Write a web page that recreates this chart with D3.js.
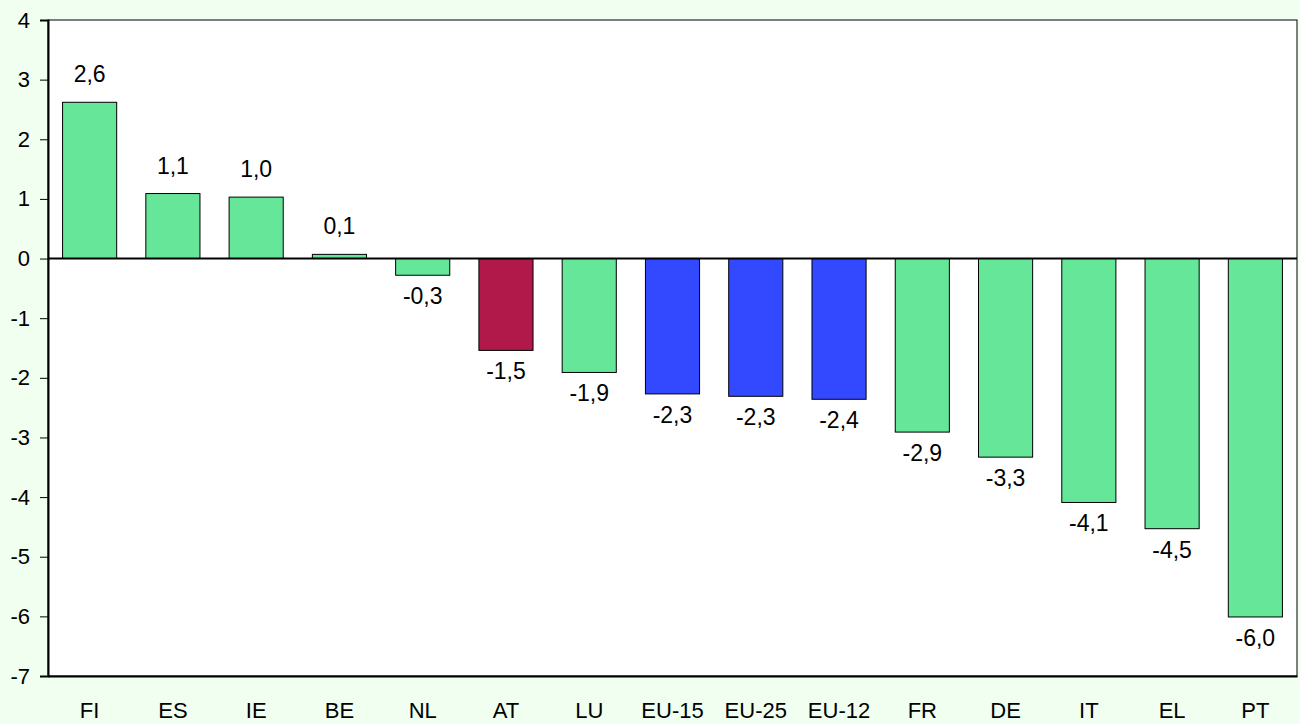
<!doctype html>
<html lang="en">
<head>
<meta charset="utf-8" />
<style>
  body { margin: 0; background: #F0FFF0; }
  svg text { font-family: "Liberation Sans", Arial, sans-serif; fill: #000; }
  .bar-label { font-size: 23px; text-anchor: middle; }
</style>
</head>
<body>
<div id="chart"></div>
<script src="https://d3js.org/d3.v7.min.js"></script>
<script>
  // data
  var categories = ["FI", "ES", "IE", "BE", "NL", "AT", "LU", "EU-15", "EU-25", "EU-12", "FR", "DE", "IT", "EL", "PT"];
  var values = [2.62, 1.09, 1.03, 0.07, -0.28, -1.54, -1.91, -2.27, -2.31, -2.36, -2.91, -3.33, -4.09, -4.53, -6.01];
  var groups = ["c", "c", "c", "c", "c", "at", "c", "eu", "eu", "eu", "c", "c", "c", "c", "c"];
  var yTicks = [4, 3, 2, 1, 0, -1, -2, -3, -4, -5, -6, -7];

  var width = 1300, height = 724;
  var margin = {top: 20, right: 3, bottom: 48, left: 48};

  var colors = {c: "#66E699", at: "#B0194A", eu: "#3349FF"};

  var svg = d3.select("#chart").append("svg")
      .attr("width", width)
      .attr("height", height);

  svg.append("rect").attr("width", width).attr("height", height).attr("fill", "#F0FFF0");

  var x = d3.scaleBand()
      .domain(categories)
      .range([margin.left, width - margin.right])
      .paddingInner(0.35)
      .paddingOuter(0.175);

  var y = d3.scaleLinear()
      .domain([-7, 4])
      .range([height - margin.bottom, margin.top]);

  // plot area
  svg.append("rect")
      .attr("x", margin.left).attr("y", margin.top)
      .attr("width", width - margin.left - margin.right)
      .attr("height", height - margin.top - margin.bottom)
      .attr("fill", "#fff")
      .attr("stroke", "#000").attr("stroke-width", 1);

  var yAxis = svg.append("g")
      .attr("transform", "translate(" + margin.left + ",0)")
      .call(d3.axisLeft(y).tickValues(yTicks).tickSize(8).tickPadding(10).tickFormat(d3.format("d")));
  yAxis.attr("font-size", 22).attr("font-family", null);
  yAxis.select(".domain").attr("stroke", "#000").attr("stroke-width", 2);
  yAxis.selectAll(".tick line").attr("stroke", "#000");
  yAxis.selectAll(".tick text").text(function(d) { return String(d); });

  var xAxis = svg.append("g")
      .attr("transform", "translate(0," + (height - margin.bottom) + ")")
      .call(d3.axisBottom(x).tickSize(0).tickPadding(26));
  xAxis.attr("font-size", 22).attr("font-family", null);
  xAxis.select(".domain").attr("stroke", "#000").attr("stroke-width", 2);

  var data = categories.map(function(c, i) { return {cat: c, val: values[i], grp: groups[i]}; });

  svg.append("g").selectAll("rect")
      .data(data)
    .enter().append("rect")
      .attr("x", function(d) { return x(d.cat); })
      .attr("width", x.bandwidth())
      .attr("y", function(d) { return y(Math.max(0, d.val)); })
      .attr("height", function(d) { return Math.abs(y(d.val) - y(0)); })
      .attr("fill", function(d) { return colors[d.grp]; })
      .attr("stroke", "#000").attr("stroke-width", 1);

  // zero line
  svg.append("line")
      .attr("x1", margin.left).attr("x2", width - margin.right)
      .attr("y1", y(0)).attr("y2", y(0))
      .attr("stroke", "#000").attr("stroke-width", 2);

  var fmt = d3.format(".1f");
  svg.append("g").selectAll("text")
      .data(data)
    .enter().append("text")
      .attr("class", "bar-label")
      .attr("x", function(d) { return x(d.cat) + x.bandwidth() / 2; })
      .attr("y", function(d) { return d.val >= 0 ? y(d.val) - 20 : y(d.val) + 29; })
      .text(function(d) { return fmt(d.val).replace("−", "-").replace(".", ","); });
</script>
</body>
</html>
